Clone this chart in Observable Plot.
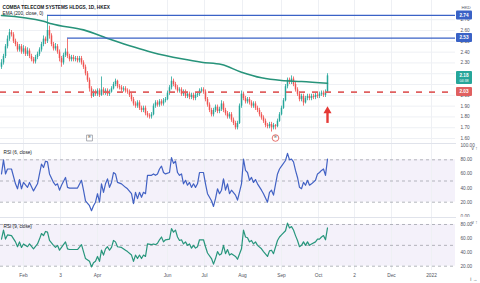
<!DOCTYPE html>
<html>
<head>
<meta charset="utf-8">
<script src="https://cdn.jsdelivr.net/npm/d3@7"></script>
<script src="https://cdn.jsdelivr.net/npm/@observablehq/plot@0.6"></script>
<style>
html,body{margin:0;padding:0;background:#fff;}
#chart{position:relative;width:480px;height:283px;overflow:hidden;background:#fff;}
#chart svg{position:absolute;left:0;overflow:hidden;}
</style>
</head>
<body>
<div id="chart"></div>
<script>
// ---------- DATA (daily bars, index 0 = first bar in view) ----------
const open = [
2.26,2.30,2.36,2.45,2.52,2.58,2.56,2.50,2.47,2.42,
2.45,2.40,2.43,2.38,2.41,2.36,2.33,2.31,2.35,2.38,
2.42,2.47,2.52,2.50,2.60,2.55,2.47,2.43,2.45,2.40,
2.34,2.30,2.37,2.40,2.36,2.33,2.35,2.33,2.34,2.32,
2.34,2.30,2.26,2.20,2.14,2.06,1.99,2.03,2.01,2.04,
2.00,2.05,2.02,2.04,2.01,2.03,2.06,2.10,2.13,2.08,
2.07,2.05,2.06,2.04,2.03,2.00,1.96,1.92,1.90,1.93,
1.88,1.86,1.88,1.83,1.81,1.80,1.82,1.90,1.93,1.91,
1.94,1.92,1.95,1.96,2.02,2.07,2.13,2.10,2.07,2.04,
2.05,2.01,2.03,1.99,2.01,1.98,2.00,1.97,2.00,2.01,
2.04,2.05,2.03,1.96,1.91,1.86,1.82,1.86,1.89,1.85,
1.87,1.92,1.86,1.83,1.80,1.82,1.77,1.74,1.70,1.74,
1.90,2.01,1.97,1.94,1.96,1.93,1.90,1.92,1.88,1.86,
1.82,1.79,1.76,1.72,1.71,1.73,1.70,1.72,1.71,1.76,
1.82,1.88,1.95,2.08,2.14,2.12,2.15,2.10,2.05,2.01,
1.96,1.99,1.93,1.97,1.99,1.97,1.99,1.98,2.00,1.99,
2.01,2.02,2.00,2.03];
const high = [
2.33,2.38,2.47,2.55,2.61,2.60,2.58,2.52,2.49,2.47,
2.47,2.46,2.45,2.44,2.43,2.38,2.35,2.37,2.40,2.44,
2.49,2.55,2.54,2.74,2.64,2.57,2.49,2.48,2.47,2.42,
2.36,2.39,2.43,2.52,2.38,2.37,2.37,2.36,2.36,2.36,
2.36,2.32,2.28,2.22,2.16,2.08,2.05,2.05,2.06,2.06,
2.17,2.07,2.06,2.06,2.05,2.08,2.12,2.15,2.14,2.10,
2.09,2.08,2.08,2.06,2.05,2.02,1.98,1.94,1.95,1.95,
1.90,1.90,1.90,1.85,1.83,1.84,1.92,1.95,1.95,1.96,
1.96,1.97,1.98,2.04,2.09,2.17,2.15,2.12,2.09,2.07,
2.07,2.05,2.05,2.03,2.03,2.02,2.02,2.02,2.03,2.06,
2.07,2.07,2.05,1.98,1.93,1.88,1.88,1.91,1.91,1.89,
1.95,1.94,1.88,1.85,1.84,1.84,1.79,1.76,1.76,1.92,
2.04,2.03,1.99,1.98,1.98,1.95,1.94,1.94,1.90,1.88,
1.84,1.81,1.78,1.74,1.75,1.75,1.74,1.73,1.78,1.84,
1.90,1.97,2.10,2.16,2.16,2.18,2.17,2.12,2.07,2.03,
2.01,2.01,1.99,2.01,2.01,2.01,2.01,2.02,2.02,2.03,
2.04,2.04,2.05,2.20];
const low = [
2.24,2.28,2.34,2.43,2.50,2.54,2.48,2.45,2.40,2.40,
2.38,2.38,2.36,2.36,2.34,2.31,2.29,2.29,2.33,2.36,
2.40,2.45,2.47,2.48,2.52,2.45,2.41,2.41,2.38,2.31,
2.26,2.28,2.35,2.34,2.31,2.31,2.31,2.31,2.30,2.30,
2.28,2.24,2.18,2.12,2.03,1.97,1.98,1.99,1.99,1.98,
1.99,2.00,2.00,1.99,1.99,2.02,2.05,2.08,2.06,2.05,
2.03,2.03,2.02,2.01,1.98,1.94,1.90,1.88,1.88,1.86,
1.84,1.84,1.81,1.79,1.78,1.78,1.81,1.88,1.89,1.89,
1.90,1.90,1.93,1.95,2.00,2.05,2.08,2.05,2.02,2.02,
1.99,1.99,1.97,1.97,1.96,1.96,1.95,1.95,1.98,1.99,
2.02,2.01,1.94,1.89,1.84,1.80,1.80,1.84,1.83,1.83,
1.85,1.84,1.81,1.78,1.78,1.75,1.72,1.68,1.68,1.73,
1.88,1.95,1.92,1.92,1.91,1.88,1.88,1.86,1.84,1.80,
1.77,1.74,1.70,1.69,1.69,1.66,1.68,1.68,1.70,1.75,
1.81,1.87,1.94,2.06,2.10,2.10,2.08,2.03,1.99,1.94,
1.94,1.90,1.92,1.95,1.95,1.95,1.96,1.96,1.97,1.97,
1.99,1.98,1.98,2.02];
const close = [
2.30,2.36,2.45,2.52,2.58,2.56,2.50,2.47,2.42,2.45,
2.40,2.43,2.38,2.41,2.36,2.33,2.31,2.35,2.38,2.42,
2.47,2.52,2.50,2.60,2.55,2.47,2.43,2.45,2.40,2.34,
2.30,2.37,2.40,2.36,2.33,2.35,2.33,2.34,2.32,2.34,
2.30,2.26,2.20,2.14,2.06,1.99,2.03,2.01,2.04,2.00,
2.05,2.02,2.04,2.01,2.03,2.06,2.10,2.13,2.08,2.07,
2.05,2.06,2.04,2.03,2.00,1.96,1.92,1.90,1.93,1.88,
1.86,1.88,1.83,1.81,1.80,1.82,1.90,1.93,1.91,1.94,
1.92,1.95,1.96,2.02,2.07,2.13,2.10,2.07,2.04,2.05,
2.01,2.03,1.99,2.01,1.98,2.00,1.97,2.00,2.01,2.04,
2.05,2.03,1.96,1.91,1.86,1.82,1.86,1.89,1.85,1.87,
1.92,1.86,1.83,1.80,1.82,1.77,1.74,1.70,1.74,1.90,
2.01,1.97,1.94,1.96,1.93,1.90,1.92,1.88,1.86,1.82,
1.79,1.76,1.72,1.71,1.73,1.70,1.72,1.71,1.76,1.82,
1.88,1.95,2.08,2.14,2.12,2.15,2.10,2.05,2.01,1.96,
1.99,1.93,1.97,1.99,1.97,1.99,1.98,2.00,1.99,2.01,
2.02,2.00,2.03,2.18];

// EMA(200, close)
const emaBar = [0,21,25,41,55,75,90,100,110,120,130,140,150,163];
const emaVal = [2.739,2.686,2.662,2.606,2.514,2.399,2.338,2.306,2.285,2.214,2.162,2.137,2.128,2.112];

// RSI samples
const rsiBar = [
0,1,2,3,5,7,8,9,10,11,
13,14,16,18,19,20,21,22,23,24,
26,27,28,29,30,32,33,34,38,40,
41,42,44,45,46,47,48,49,50,51,
52,53,54,55,56,57,58,60,62,63,
65,66,67,68,69,70,71,72,73,75,
76,77,78,79,80,81,82,84,85,86,
87,88,89,90,91,92,93,94,95,96,
97,98,99,101,102,103,105,106,107,108,
109,110,111,112,113,114,115,117,118,120,
121,122,123,124,125,126,127,128,130,131,
133,134,135,136,138,139,140,142,143,144,
145,146,147,148,149,150,151,152,153,154,
155,157,158,159,160,161,162,163];
const rsi6 = [
60,80,60,67,67,46,39,52,39,48,
41,48,36,46,60,74,69,78,77,60,
48,44,46,37,44,55,41,40,40,51,
37,22,15,8,15,20,32,20,46,34,
46,53,41,48,62,60,48,46,41,39,
32,18,34,25,34,27,34,32,58,58,
60,58,60,67,71,62,60,62,83,75,
78,62,58,60,46,51,44,48,41,46,
41,46,62,62,46,32,22,14,25,39,
32,37,53,37,46,32,37,30,23,46,
81,65,62,51,55,48,52,46,37,32,
20,34,37,30,60,67,71,79,89,80,
81,77,65,55,41,39,48,44,51,44,
46,51,60,62,65,67,58,81];
const rsi9 = [
59,72,59,65,64,55,48,55,47,52,
48,52,45,52,59,67,64,70,69,57,
50,47,50,43,47,55,45,44,44,51,
41,31,27,19,25,27,34,27,43,36,
45,48,43,47,57,55,48,47,43,41,
36,27,36,31,36,31,36,34,52,51,
52,51,53,58,62,55,58,59,74,69,
72,62,57,58,52,55,50,52,46,50,
46,48,58,58,48,39,31,23,31,41,
36,38,50,38,44,36,38,34,30,45,
72,62,61,55,57,52,55,50,45,41,
34,42,43,38,57,62,65,71,82,75,
77,72,64,57,48,50,55,50,55,50,
52,55,59,59,62,64,58,75];

// Time axis labels (bar positions)
const tickBar   = [11,29.5,48,83,101.5,120.5,140,158.5,176.5,195,215];
const tickLabel = ["Feb","3","Apr","Jun","Jul","Aug","Sep","Oct","2","Dec","2022"];

// Price axis + drawings
const priceGrid  = [1.6,1.7,1.8,1.9,2.0,2.1,2.2,2.3,2.4,2.5,2.6,2.7];
const priceTicks = [1.6,1.7,1.8,1.9,2.0,2.3,2.4,2.5,2.6,2.7];   // 2.10/2.20 sit under the last-price tag
const resistLevel = [2.74, 2.53];
const resistFrom  = [23, 33];
const supportLevel = [2.03];
const arrowBar = [163], arrowLow = [1.74], arrowTip = [1.855];
const earnBar = [44, 137];
const rsi6Ticks = [0,20,40,60,80,100];
const rsi9Ticks = [20,40,60,80];
const rsiLevels = [20,50,80];
const rsiBand = [20,80];

// view windows
const viewBars = [-0.5, 227];
const priceView = [1.554, 2.878];
const rsi6View = [-1.65, 103.07];
const rsi9View = [13.8, 90.07];

const title = "COMBA TELECOM SYSTEMS HLDGS, 1D, HKEX";
const emaLabel = "EMA (200, close, 0)";
const currency = "HKD";
const countdown = "04:38";

// ---------- STYLE ----------
const FONT = "'Liberation Sans', Arial, sans-serif";
const FS = 4.7;
const W = 480, MR = 25;
const UP = "#26a69a", DN = "#ef5350";
const GRID = "#eef0f4";
const EMA_C = "#27937a";
const RES_C = "#3a62c6";
const SUP_C = "#e06060";
const ARROW_C = "#e53935";
const RSI6_C = "#4262c4";
const RSI9_C = "#27967c";
const BAND = "#f4f1fa";
const AXIS_C = "#50535e";

const bars = close.map((c, i) => ({i, o: open[i], h: high[i], l: low[i], c}));
const upBars = bars.filter(d => d.c >= d.o);
const dnBars = bars.filter(d => d.c < d.o);
const ema = emaBar.map((b, k) => ({i: b, v: emaVal[k]}));
const r6 = rsiBar.map((b, k) => ({i: b, v: rsi6[k]}));
const r9 = rsiBar.map((b, k) => ({i: b, v: rsi9[k]}));
const resist = resistLevel.map((y, k) => ({y, from: resistFrom[k]}));
const arrow = arrowBar.map((b, k) => ({i: b, lo: arrowLow[k], hi: arrowTip[k]}));

const common = {
  width: W, marginLeft: 0, marginRight: MR, marginTop: 0,
  style: {fontFamily: FONT, fontSize: FS + "px", background: "transparent", color: AXIS_C}
};
const candleMarks = (set, color) => [
  Plot.ruleX(set, {x: "i", y1: "l", y2: "h", stroke: color, strokeWidth: 0.8}),
  Plot.ruleX(set, {x: "i", y1: "o", y2: "c", stroke: color, strokeWidth: 1.5})
];

// ---------- PRICE PANE ----------
const pricePlot = Plot.plot({
  ...common, height: 143, marginBottom: 0,
  x: {domain: viewBars, axis: null},
  y: {domain: priceView},
  marks: [
    Plot.gridX(tickBar, {stroke: GRID, strokeOpacity: 1}),
    Plot.gridY(priceGrid, {stroke: GRID, strokeOpacity: 1}),
    ...candleMarks(upBars, UP),
    ...candleMarks(dnBars, DN),
    Plot.line(ema, {x: "i", y: "v", stroke: EMA_C, strokeWidth: 1.6, curve: "monotone-x"}),
    Plot.ruleY(supportLevel, {y: d => d, stroke: SUP_C, strokeWidth: 1.6, strokeDasharray: "6,7"}),
    Plot.ruleY(resist, {y: "y", x1: "from", x2: () => viewBars[1], stroke: RES_C, strokeWidth: 1.4}),
    Plot.ruleX(arrow, {x: "i", y1: "lo", y2: "hi", stroke: ARROW_C, strokeWidth: 2.4}),
    Plot.dot(arrow, {x: "i", y: "hi", symbol: "triangle", r: 3, fill: ARROW_C}),
    Plot.dot([earnBar[0]], {x: d => d, frameAnchor: "bottom", dy: -5.5, symbol: "square", r: 3.3, fill: "white", stroke: "#8a8d96", strokeWidth: 0.7}),
    Plot.dot([earnBar[1]], {x: d => d, frameAnchor: "bottom", dy: -5.5, symbol: "circle", r: 3.3, fill: "white", stroke: "#e0524e", strokeWidth: 0.8}),
    Plot.text(earnBar, {x: d => d, frameAnchor: "bottom", dy: -5.5, text: () => "E", fontSize: 4, fill: "#555"}),
    Plot.axisY(priceTicks, {anchor: "right", tickSize: 0, tickPadding: 5, tickFormat: d => d.toFixed(2), textAnchor: "start", fill: AXIS_C, fontSize: FS}),
    Plot.text([title], {frameAnchor: "top-left", dx: 2, dy: 5.3, text: d => d, textAnchor: "start", fontWeight: "bold", fill: "#131722", fontSize: FS}),
    Plot.text([emaLabel], {frameAnchor: "top-left", dx: 2, dy: 11.3, text: d => d, textAnchor: "start", fill: "#131722", fontSize: FS}),
    Plot.text([currency], {frameAnchor: "top-right", dx: 6, dy: 5, text: d => d, textAnchor: "start", fill: AXIS_C, fontSize: FS - 0.3})
  ]
});

function priceTag(plot, value, label, color, sub) {
  const y = plot.scale("y").apply(value);
  const g = d3.select(plot).append("g").attr("font-family", FONT);
  const x0 = W - MR + 1;
  g.append("rect").attr("x", x0).attr("y", y - 4.5).attr("width", 16).attr("height", sub ? 13 : 9)
    .attr("rx", 1).attr("fill", color);
  g.append("text").attr("x", x0 + 8).attr("y", y).attr("dy", "0.35em").attr("text-anchor", "middle")
    .attr("fill", "#fff").attr("font-size", FS).attr("font-weight", "bold").text(label);
  if (sub) g.append("text").attr("x", x0 + 8).attr("y", y + 5.3).attr("dy", "0.35em").attr("text-anchor", "middle")
    .attr("fill", "#fff").attr("font-size", 3.7).text(sub);
}
priceTag(pricePlot, resistLevel[0], resistLevel[0].toFixed(2), RES_C);
priceTag(pricePlot, resistLevel[1], resistLevel[1].toFixed(2), RES_C);
priceTag(pricePlot, close[close.length - 1], close[close.length - 1].toFixed(2), UP, countdown);
priceTag(pricePlot, supportLevel[0], supportLevel[0].toFixed(2), SUP_C);

// ---------- RSI PANES ----------
function rsiPane(data, color, label, view, ticks, height, marginBottom, withDates) {
  const marks = [
    Plot.rect([rsiBand], {x1: () => viewBars[0], x2: () => viewBars[1], y1: d => d[0], y2: d => d[1], fill: BAND}),
    Plot.gridX(tickBar, {stroke: GRID, strokeOpacity: 1}),
    Plot.ruleY(rsiLevels, {stroke: "#9598a1", strokeDasharray: "3,3", strokeWidth: 0.7}),
    Plot.line(data, {x: "i", y: "v", stroke: color, strokeWidth: 1.2}),
    Plot.axisY(ticks, {anchor: "right", tickSize: 0, tickPadding: 5, tickFormat: d => d.toFixed(2), textAnchor: "start", fill: AXIS_C, fontSize: FS}),
    Plot.text([label], {frameAnchor: "top-left", dx: 3, dy: 7.5, text: d => d, textAnchor: "start", fill: "#131722", fontSize: FS}),
    Plot.frame({anchor: "top", stroke: "#e0e3eb"})
  ];
  if (withDates) marks.push(Plot.axisX(tickBar, {anchor: "bottom", tickSize: 0, tickPadding: 3.5,
    tickFormat: d => tickLabel[tickBar.indexOf(d)], fill: AXIS_C, fontSize: FS + 0.1}));
  return Plot.plot({
    ...common, height, marginBottom,
    x: withDates ? {domain: viewBars} : {domain: viewBars, axis: null},
    y: {domain: view},
    marks
  });
}
const rsi6Plot = rsiPane(r6, RSI6_C, "RSI (6, close)", rsi6View, rsi6Ticks, 74, 0, false);
const rsi9Plot = rsiPane(r9, RSI9_C, "RSI (9, close)", rsi9View, rsi9Ticks, 66, 13, true);

const chart = document.getElementById("chart");
pricePlot.style.top = "0px";
rsi6Plot.style.top = "143px";
rsi9Plot.style.top = "217px";
chart.append(pricePlot, rsi6Plot, rsi9Plot);
</script>
</body>
</html>
